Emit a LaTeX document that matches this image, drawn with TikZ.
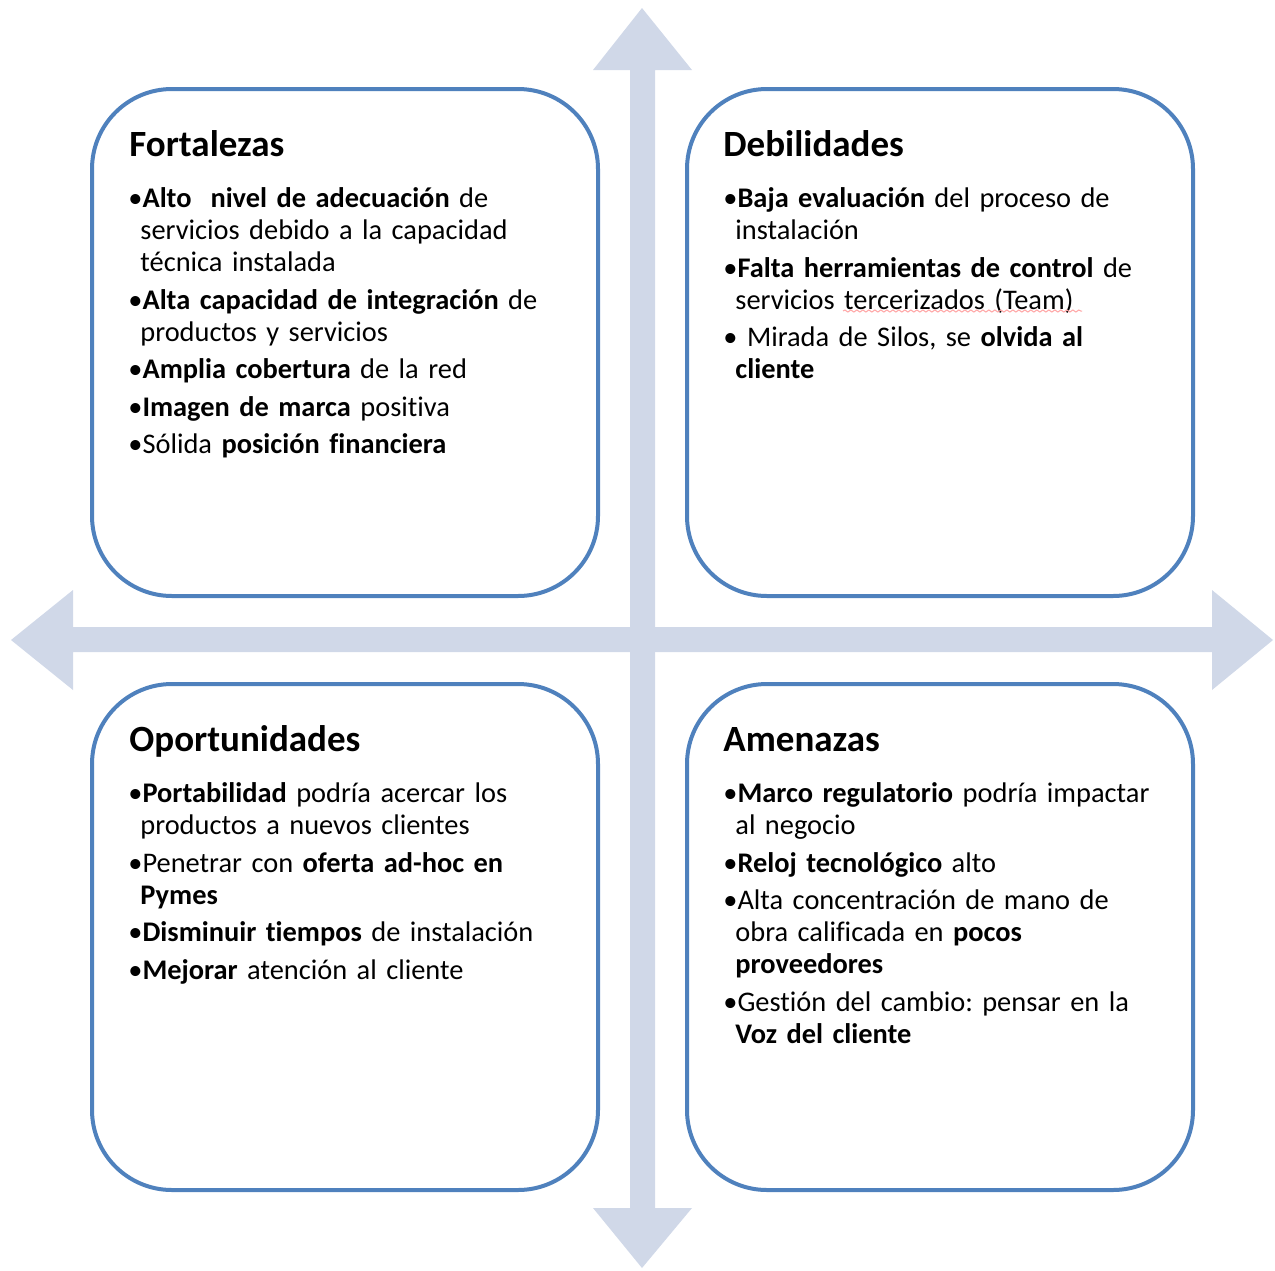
\documentclass[tikz,border=0pt]{standalone}
\usepackage{fontspec}
\setmainfont{Carlito}[Ligatures=NoCommon]
\usetikzlibrary{decorations.pathmorphing}
\setlength{\parindent}{0pt}
\frenchspacing

\definecolor{swot blue}{RGB}{79,129,189}
\definecolor{axis blue}{RGB}{208,216,232}

\tikzstyle{quadrant}=[draw=swot blue, line width=2pt, fill=white, rounded corners=40pt]
\tikzstyle{axis}=[fill=axis blue]
\tikzstyle{heading}=[anchor=base west, inner sep=0pt, font=\fontsize{18.5}{22}\selectfont\bfseries]
\tikzstyle{points}=[anchor=base west, inner sep=0pt, text width=250pt, align=left,
	font=\fontsize{14.2}{16}\selectfont, execute at begin node={\setlength{\parskip}{2.75pt}}]
\tikzstyle{spelling}=[draw=red!35, line width=0.5pt, decorate,
	decoration={snake, amplitude=0.5pt, segment length=3pt}]

\newcommand{\swotitem}{\par\hangindent=6pt\hangafter=1\textbullet}

\begin{document}
\begin{tikzpicture}[x=0.5pt, y=-0.5pt]
	\useasboundingbox (0,0) rectangle (1275,1270);

	% cross of arrows
	\fill[axis] (630,70) -- (593,70) -- (642,8) -- (692,70) -- (655,70) -- (655,1208)
		-- (692,1208) -- (642,1268) -- (593,1208) -- (630,1208) -- cycle;
	\fill[axis] (73,627) -- (73,590) -- (11,640) -- (73,690) -- (73,652) -- (1212,652)
		-- (1212,690) -- (1273,640) -- (1212,590) -- (1212,627) -- cycle;

	\draw[quadrant] (92,89) rectangle (598,596);
	\draw[quadrant] (687,89) rectangle (1193,596);
	\draw[quadrant] (92,684) rectangle (598,1190);
	\draw[quadrant] (687,684) rectangle (1193,1190);

	\node[heading] (fortalezas) at (129,156) {Fortalezas};
	\node[points] (fortalezas list) at (128,170) {%
		\swotitem\textbf{Alto\ \ nivel de adecuación} de\newline servicios debido a la capacidad\newline técnica instalada
		\swotitem\textbf{Alta capacidad de integración} de\newline productos y servicios
		\swotitem\textbf{Amplia cobertura} de la red
		\swotitem\textbf{Imagen de marca} positiva
		\swotitem Sólida \textbf{posición financiera}\par};

	\node[heading] (debilidades) at (723,156) {Debilidades};
	\node[points] (debilidades list) at (723,170) {%
		\swotitem\textbf{Baja evaluación} del proceso de\newline instalación
		\swotitem\textbf{Falta herramientas de control} de\newline servicios tercerizados (Team)
		\swotitem\ Mirada de Silos, se \textbf{olvida al}\newline \textbf{cliente}\par};
	\draw[spelling] (843,311) -- (1082,311);

	\node[heading] (oportunidades) at (129,751) {Oportunidades};
	\node[points] (oportunidades list) at (128,765) {%
		\swotitem\textbf{Portabilidad} podría acercar los\newline productos a nuevos clientes
		\swotitem Penetrar con \textbf{oferta ad-hoc en}\newline \textbf{Pymes}
		\swotitem\textbf{Disminuir tiempos} de instalación
		\swotitem\textbf{Mejorar} atención al cliente\par};

	\node[heading] (amenazas) at (723,751) {Amenazas};
	\node[points] (amenazas list) at (723,765) {%
		\swotitem\textbf{Marco regulatorio} podría impactar\newline al negocio
		\swotitem\textbf{Reloj tecnológico} alto
		\swotitem Alta concentración de mano de\newline obra calificada en \textbf{pocos}\newline \textbf{proveedores}
		\swotitem Gestión del cambio: pensar en la\newline \textbf{Voz del cliente}\par};
\end{tikzpicture}
\end{document}
